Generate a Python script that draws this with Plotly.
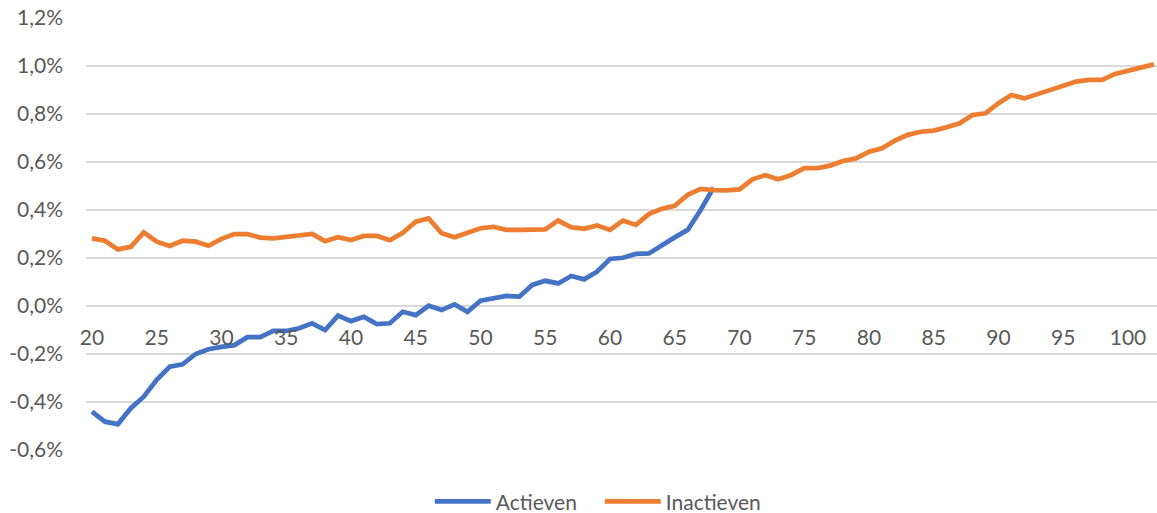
import plotly.graph_objects as go

ages_active = list(range(20, 69))
actieven = [-0.44, -0.482, -0.492, -0.426, -0.378, -0.308, -0.253, -0.243, -0.200, -0.180,
            -0.170, -0.163, -0.130, -0.130, -0.104, -0.104, -0.093, -0.072, -0.100, -0.040,
            -0.063, -0.045, -0.075, -0.072, -0.024, -0.038, 0.001, -0.017, 0.007, -0.024,
            0.022, 0.033, 0.042, 0.039, 0.088, 0.105, 0.094, 0.125, 0.111, 0.143,
            0.196, 0.201, 0.217, 0.219, 0.254, 0.286, 0.317, 0.400, 0.493]

ages_inactive = list(range(20, 103))
inactieven = [0.282, 0.272, 0.236, 0.247, 0.307, 0.268, 0.250, 0.272, 0.268, 0.251,
              0.280, 0.300, 0.300, 0.285, 0.282, 0.287, 0.294, 0.300, 0.270, 0.287,
              0.275, 0.292, 0.292, 0.274, 0.305, 0.351, 0.365, 0.303, 0.286, 0.303,
              0.324, 0.330, 0.317, 0.317, 0.318, 0.319, 0.356, 0.328, 0.322, 0.336,
              0.317, 0.356, 0.338, 0.383, 0.405, 0.417, 0.463, 0.488, 0.483, 0.482,
              0.486, 0.528, 0.545, 0.528, 0.546, 0.574, 0.574, 0.585, 0.604, 0.615,
              0.643, 0.657, 0.689, 0.713, 0.726, 0.731, 0.745, 0.761, 0.796, 0.803,
              0.845, 0.879, 0.865, 0.882, 0.900, 0.918, 0.935, 0.942, 0.942, 0.967,
              0.980, 0.990, 1.007]

x_ticks = list(range(20, 101, 5))
y_ticks = [-0.6, -0.4, -0.2, 0.0, 0.2, 0.4, 0.6, 0.8, 1.0, 1.2]
y_ticktext = [f"{v:.1f}%".replace(".", ",") for v in y_ticks]

FONT = "Lato"
TXT = "#595959"
GRID = "#d9d9d9"
FS = 21

fig = go.Figure()
fig.add_trace(go.Scatter(x=ages_active, y=actieven, mode="lines", name="Actieven",
                         line=dict(color="#4472C4", width=4.75)))
fig.add_trace(go.Scatter(x=ages_inactive, y=inactieven, mode="lines", name="Inactieven",
                         line=dict(color="#ED7D31", width=4.75)))

fig.update_layout(
    width=1157, height=513,
    margin=dict(l=86, r=0, t=18, b=63, autoexpand=False),
    paper_bgcolor="white", plot_bgcolor="white",
    font=dict(family=FONT, size=FS, color=TXT),
    showlegend=True,
    legend=dict(orientation="h", x=0.4797, xanchor="center",
                y=-0.12, yanchor="middle", entrywidth=99,
                itemwidth=56, font=dict(family=FONT, size=FS, color=TXT)),
    xaxis=dict(range=[19.54, 102.24], tickvals=x_ticks, showgrid=False, zeroline=False,
               showline=False, anchor="free", position=1/3, ticks="",
               ticklabelstandoff=17, tickfont=dict(family=FONT, size=FS, color=TXT)),
    yaxis=dict(range=[-0.6, 1.2], tickvals=y_ticks, ticktext=y_ticktext,
               showgrid=True, gridcolor=GRID, gridwidth=1.5, zeroline=True,
               zerolinecolor=GRID, zerolinewidth=1.5, showline=False, ticks="",
               ticklabelstandoff=22, tickfont=dict(family=FONT, size=FS, color=TXT)),
)

fig.write_html("out.html", config={"displayModeBar": False},
               post_script="document.body.style.margin='0';")
